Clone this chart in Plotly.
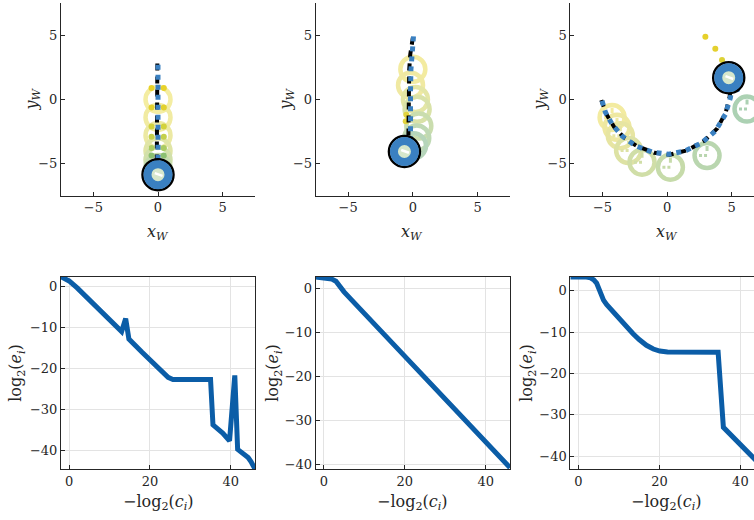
import plotly.graph_objects as go

W, H = 754, 520

# ---------------- top row: trajectories in world frame ----------------
# panel 1
p1_path_x = [0.0, 0.0, 0.0, 0.0, 0.0, 0.0, 0.0]
p1_path_y = [2.7, 1.0, -0.5, -2.0, -3.5, -5.0, -5.8]
p1_ref_x = [-0.05, -0.05, -0.05, -0.05, -0.05, -0.05, -0.1]
p1_ref_y = [2.8, 1.0, -0.5, -2.0, -3.5, -5.0, -5.9]
p1_ring_x = [0.0, 0.0, 0.0, 0.0, 0.0, 0.0]
p1_ring_y = [0.0, -1.4, -2.8, -4.0, -4.7, -5.3]
p1_ring_c = ["#F4EDA2", "#F1EBA2", "#ECE9A3", "#E0E5A6", "#D2E0AA", "#C4DBAE"]
p1_dot_x = [-0.5, 0.45, -0.5, 0.45, -0.5, 0.45, -0.5, 0.45, -0.5, 0.45, -0.5, 0.45, -0.5, 0.45]
p1_dot_y = [0.88, 0.88, -0.62, -0.62, -2.1, -2.1, -2.9, -2.9, -3.78, -3.78, -4.37, -4.37, -5.0, -5.0]
p1_dot_c = ["#E8D22A", "#E8D22A", "#E2D12E", "#E2D12E", "#D2D23C", "#D2D23C", "#C4D04C", "#C4D04C",
            "#AACB62", "#AACB62", "#8CC072", "#8CC072", "#2B6FB6", "#2B6FB6"]
p1_final = (0.0, -5.85)

# panel 2
p2_path_x = [0.05, -0.1, -0.15, -0.18, -0.18, -0.17, -0.18, -0.3]
p2_path_y = [4.9, 3.5, 2.3, 0.67, -0.75, -2.17, -3.2, -3.8]
p2_ref_x = [0.0, -0.2, -0.28, -0.3, -0.32, -0.3, -0.35, -0.55]
p2_ref_y = [4.8, 3.5, 2.3, 0.6, -0.8, -2.2, -3.3, -3.9]
p2_ring_x = [0.0, -0.18, 0.2, 0.33, 0.46, 0.3, 0.05]
p2_ring_y = [2.35, 1.1, 0.0, -0.77, -2.07, -3.0, -3.6]
p2_ring_c = ["#F3EBA0", "#F0E9A2", "#E4E6A5", "#D9E2A8", "#CADDAE", "#BFD9B4", "#B6D5BA"]
p2_dot_x = [-0.55, -0.5]
p2_dot_y = [-1.7, -1.2]
p2_dot_c = ["#E2D440", "#E2D440"]
p2_final = (-0.65, -4.05)

# panel 3
p3_path_x = [-5.04, -4.78, -4.26, -3.49, -2.45, -1.16, 0.13, 1.42, 2.71, 3.75, 4.52, 4.91, 5.04, 4.85]
p3_path_y = [-0.1, -1.0, -1.93, -2.84, -3.6, -4.1, -4.26, -4.0, -3.36, -2.46, -1.16, 0.13, 1.03, 1.6]
p3_ref_x = [-5.1, -4.7, -4.1, -3.3, -2.3, -1.0, 0.2, 1.6, 2.9, 3.9, 4.55, 4.85, 4.95, 4.8]
p3_ref_y = [-0.05, -1.15, -2.15, -3.0, -3.65, -4.15, -4.3, -3.95, -3.2, -2.25, -1.0, 0.2, 1.0, 1.6]
p3_ring_x = [-4.26, -3.88, -3.62, -2.98, -1.94, 0.26, 3.1, 6.2]
p3_ring_y = [-1.4, -2.17, -2.82, -3.98, -4.88, -5.27, -4.37, -0.75]
p3_ring_c = ["#F3EBA0", "#EEE8A1", "#E7E5A2", "#DDE2A4", "#D0DEA7", "#C6DBAA", "#B9D6AF", "#ACD1B3"]
p3_dot_x = [2.97, 3.74, 4.26, 4.55, 4.65, 5.43]
p3_dot_y = [4.88, 3.95, 3.07, 2.3, 0.8, 0.8]
p3_dot_c = ["#E6D02A", "#E4D02E", "#DDD236", "#C8D44C", "#2B6FB6", "#2B6FB6"]
p3_final = (4.78, 1.69)

# ---------------- bottom row: convergence ----------------
conv1_x = [-2, 0, 2, 5, 8, 13, 14, 14.8, 18, 23, 24.5, 25.7, 30, 35, 35.6, 38, 39.7, 41, 41.7, 43, 44.3, 45, 46]
conv1_y = [2.4, 1.4, -0.3, -3.3, -6.3, -11, -7.8, -12.8, -16, -21, -22.2, -22.7, -22.7, -22.7, -33.8,
           -35.8, -37.7, -21.7, -39.8, -40.8, -41.8, -42.8, -44.6]
conv2_x = [-2, -1, 1, 2, 3, 4, 5, 10, 20, 30, 40, 46]
conv2_y = [2.6, 2.45, 2.35, 2.1, 1.6, 0.5, -0.8, -5.7, -15.4, -25.2, -35.0, -40.8]
conv3_x = [-2, 0, 2, 3, 3.8, 4.5, 5, 5.5, 6.2, 7, 9, 11, 13.5, 15, 16.8, 18.5, 20.1, 22, 26, 30, 34.5,
           35.8, 40, 43.4, 46]
conv3_y = [3.3, 3.35, 3.3, 3.1, 2.6, 1.8, 0.5, -1.0, -2.3, -3.4, -5.6, -7.9, -10.4, -11.8, -13.2, -14.1,
           -14.6, -14.8, -14.8, -14.85, -14.9, -33, -37.2, -40.6, -43.1]

top_ticks = [-5, 0, 5]
bot_xticks = [0, 20, 40]
bot_yticks = [-40, -30, -20, -10, 0]

LINE_BLUE = "#0B5DA7"
PATH_BLUE = "#3A80C1"
AX = "#262626"
FONT = "DejaVu Serif"

fig = go.Figure()

top_sets = [
    (p1_path_x, p1_path_y, p1_ref_x, p1_ref_y, p1_ring_x, p1_ring_y, p1_ring_c, p1_dot_x, p1_dot_y, p1_dot_c, p1_final),
    (p2_path_x, p2_path_y, p2_ref_x, p2_ref_y, p2_ring_x, p2_ring_y, p2_ring_c, p2_dot_x, p2_dot_y, p2_dot_c, p2_final),
    (p3_path_x, p3_path_y, p3_ref_x, p3_ref_y, p3_ring_x, p3_ring_y, p3_ring_c, p3_dot_x, p3_dot_y, p3_dot_c, p3_final),
]

for i, (px_, py_, rx, ry, cx, cy, cc, dx, dy, dc, fin) in enumerate(top_sets):
    xa = "x" if i == 0 else f"x{i+1}"
    ya = "y" if i == 0 else f"y{i+1}"
    fig.add_trace(go.Scatter(x=cx, y=cy, mode="markers", xaxis=xa, yaxis=ya,
                             marker=dict(symbol="circle-open", size=25, color=cc,
                                         line=dict(width=4.5)), hoverinfo="skip"))
    if i == 2:
        for x0, y0, c in zip(cx, cy, cc):
            fig.add_trace(go.Scatter(x=[x0, x0 - 0.65], y=[y0, y0], mode="lines", xaxis=xa, yaxis=ya,
                                     line=dict(color=c, width=3, dash="3px,2px"), hoverinfo="skip"))
            fig.add_trace(go.Scatter(x=[x0, x0], y=[y0 + 0.35, y0 + 0.75], mode="lines", xaxis=xa, yaxis=ya,
                                     line=dict(color=c, width=3), hoverinfo="skip"))
    fig.add_trace(go.Scatter(x=dx, y=dy, mode="markers", xaxis=xa, yaxis=ya,
                             marker=dict(size=6, color=dc), hoverinfo="skip"))
    fig.add_trace(go.Scatter(x=rx, y=ry, mode="lines", xaxis=xa, yaxis=ya,
                             line=dict(color="black", width=4, dash="7px,6px"), hoverinfo="skip"))
    fig.add_trace(go.Scatter(x=px_, y=py_, mode="lines", xaxis=xa, yaxis=ya,
                             line=dict(color=PATH_BLUE, width=5, dash="dot"), hoverinfo="skip"))
    fig.add_trace(go.Scatter(x=[fin[0]], y=[fin[1]], mode="markers", xaxis=xa, yaxis=ya,
                             marker=dict(symbol="circle-open", size=31, color="black",
                                         line=dict(width=2.5)), hoverinfo="skip"))
    fig.add_trace(go.Scatter(x=[fin[0]], y=[fin[1]], mode="markers", xaxis=xa, yaxis=ya,
                             marker=dict(symbol="circle", size=21, color="#D6E7CB",
                                         line=dict(width=8, color=PATH_BLUE)), hoverinfo="skip"))
    fig.add_trace(go.Scatter(x=[fin[0] + 0.35, fin[0] - 0.25], y=[fin[1] - 0.1, fin[1] + 0.12], mode="lines",
                             xaxis=xa, yaxis=ya, line=dict(color="white", width=2.5), hoverinfo="skip"))

for i, (cxv, cyv) in enumerate([(conv1_x, conv1_y), (conv2_x, conv2_y), (conv3_x, conv3_y)]):
    fig.add_trace(go.Scatter(x=cxv, y=cyv, mode="lines", xaxis=f"x{i+4}", yaxis=f"y{i+4}",
                             line=dict(color=LINE_BLUE, width=5), hoverinfo="skip"))


def ppx(v):
    return v / W


def ppy(v):
    return 1 - v / H


XD = [[ppx(61), ppx(255)], [ppx(315.7), ppx(510)], [ppx(570.3), 1.0]]
YT = [ppy(197), ppy(3)]
YB = [ppy(471.7), ppy(278.3)]

tickfont = dict(family=FONT, size=13, color=AX)
layout = dict(
    width=W, height=H, margin=dict(l=0, r=0, t=0, b=0),
    paper_bgcolor="white", plot_bgcolor="white", showlegend=False,
    font=dict(family=FONT, color=AX),
)

top_xr = [[-7.5, 7.5], [-7.5, 7.5], [-7.5, 6.74]]
bot_xr = [[-2, 46], [-2, 46], [-2, 43.36]]
bot_yr = [[-44.6, 2.43], [-41.1, 2.65], [-43.05, 3.36]]

for i in range(3):
    n = "" if i == 0 else str(i + 1)
    layout[f"xaxis{n}"] = dict(domain=XD[i], anchor=f"y{n}", range=top_xr[i], tickvals=top_ticks,
                               showline=True, linecolor=AX, linewidth=1, ticks="inside", ticklen=4,
                               tickcolor=AX, showgrid=False, zeroline=False, tickfont=tickfont)
    layout[f"yaxis{n}"] = dict(domain=YT, anchor=f"x{n}", range=[-7.5, 7.5], tickvals=top_ticks,
                               showline=True, linecolor=AX, linewidth=1, ticks="inside", ticklen=4,
                               tickcolor=AX, showgrid=False, zeroline=False, tickfont=tickfont)
    m = str(i + 4)
    layout[f"xaxis{m}"] = dict(domain=XD[i], anchor=f"y{m}", range=bot_xr[i], tickvals=bot_xticks,
                               showline=True, mirror=True, linecolor=AX, linewidth=1, ticks="inside",
                               ticklen=4, tickcolor=AX, showgrid=True, gridcolor="#E3E3E3",
                               zeroline=False, tickfont=tickfont)
    layout[f"yaxis{m}"] = dict(domain=YB, anchor=f"x{m}", range=bot_yr[i], tickvals=bot_yticks,
                               showline=True, mirror=(i < 2), linecolor=AX, linewidth=1, ticks="inside",
                               ticklen=4, tickcolor=AX, showgrid=True, gridcolor="#E3E3E3",
                               zeroline=False, tickfont=tickfont)

fig.update_layout(**layout)

lab_font = dict(family=FONT, size=16, color=AX)
ann = []
xlab_top = [158, 412.3, 666.8]
ylab_top = [32, 286, 540]
ylab_bot = [17, 274, 528]
for i in range(3):
    ann.append(dict(x=ppx(xlab_top[i]), y=ppy(234), xref="paper", yref="paper",
                    text="<i>x</i><sub><i>W</i></sub>", showarrow=False, font=lab_font,
                    xanchor="center", yanchor="middle"))
    ann.append(dict(x=ppx(ylab_top[i]), y=ppy(100), xref="paper", yref="paper",
                    text="<i>y</i><sub><i>W</i></sub>", showarrow=False, font=lab_font, textangle=-90,
                    xanchor="center", yanchor="middle"))
    ann.append(dict(x=ppx(xlab_top[i]), y=ppy(505), xref="paper", yref="paper",
                    text="\u2212log<sub>2</sub>(<i>c</i><sub><i>i</i></sub>)", showarrow=False, font=lab_font,
                    xanchor="center", yanchor="middle"))
    ann.append(dict(x=ppx(ylab_bot[i]), y=ppy(375), xref="paper", yref="paper",
                    text="log<sub>2</sub>(<i>e</i><sub><i>i</i></sub>)", showarrow=False, font=lab_font,
                    textangle=-90, xanchor="center", yanchor="middle"))
fig.update_layout(annotations=ann)

fig.write_html("out.html", config={"displayModeBar": False},
               post_script="document.body.style.margin='0px';")
